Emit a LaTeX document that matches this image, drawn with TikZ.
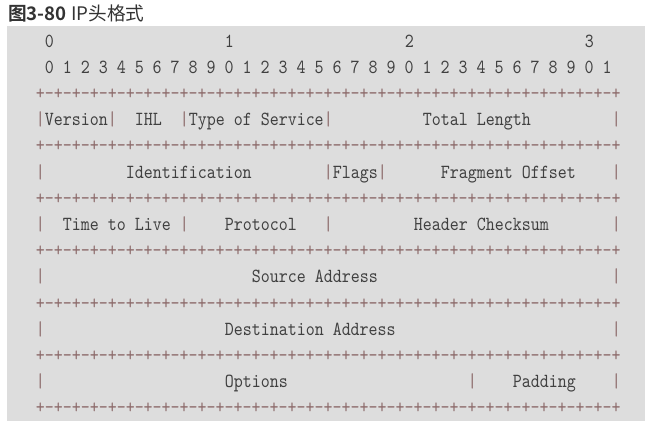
\documentclass[tikz,border=0pt]{standalone}
\usepackage{fontspec}
\usetikzlibrary{positioning}
\newfontfamily\gridfont{lmmono10-regular}[Extension=.otf,FakeStretch=0.857]
\newfontfamily\titlefont{Noto Sans CJK SC}[BoldFont={Noto Sans CJK SC Bold}]
\definecolor{bggray}{HTML}{DDDDDD}
\definecolor{textgray}{HTML}{404040}
\definecolor{gridred}{HTML}{8C6A6A}
\definecolor{titlegray}{HTML}{333333}
\newcommand{\sepfour}{+-+-+-+-}
\newcommand{\sepline}{\sepfour\sepfour\sepfour\sepfour\sepfour\sepfour\sepfour\sepfour+}
\tikzset{
  txt/.style={anchor=base west, inner sep=0pt, font=\gridfont\fontsize{15}{17}\selectfont, text=textgray},
  grid/.style={txt, text=gridred},
}

\begin{document}
\begin{tikzpicture}[x=0.75pt, y=-0.75pt]
    \useasboundingbox (0,0) rectangle (645,421);
    \fill [bggray] (7,26) rectangle (645,421);
    \node [anchor=west, inner sep=0pt, font=\titlefont\fontsize{14}{16}\selectfont, text=titlegray] (title) at (8,13.5) {\textbf{图3-80} IP头格式};

    \begin{scope}[shift={(35.5,47)}, x=6.75pt, y=-19.65pt]
    \node [txt] (tens0) at (1,0) {0};
    \node [txt] (tens1) at (21,0) {1};
    \node [txt] (tens2) at (41,0) {2};
    \node [txt] (tens3) at (61,0) {3};
    \node [txt] (bits) at (1,1) {0 1 2 3 4 5 6 7 8 9 0 1 2 3 4 5 6 7 8 9 0 1 2 3 4 5 6 7 8 9 0 1};

    \foreach \y in {2,4,...,14}
        \node [grid] (sep\y) at (0,\y) {\sepline};
    \foreach \x/\y in {0/3,8/3,16/3,32/3,64/3, 0/5,32/5,38/5,64/5, 0/7,16/7,32/7,64/7,
                       0/9,64/9, 0/11,64/11, 0/13,48/13,64/13}
        \node [grid] (bar-\x-\y) at (\x,\y) {|};

    \node [txt] (version) at (1,3) {Version};
    \node [txt] (ihl) at (11,3) {IHL};
    \node [txt] (tos) at (17,3) {Type of Service};
    \node [txt] (length) at (43,3) {Total Length};
    \node [txt] (ident) at (10,5) {Identification};
    \node [txt] (flags) at (33,5) {Flags};
    \node [txt] (offset) at (45,5) {Fragment Offset};
    \node [txt] (ttl) at (3,7) {Time to Live};
    \node [txt] (proto) at (21,7) {Protocol};
    \node [txt] (checksum) at (42,7) {Header Checksum};
    \node [txt] (src) at (24,9) {Source Address};
    \node [txt] (dst) at (21,11) {Destination Address};
    \node [txt] (options) at (21,13) {Options};
    \node [txt] (padding) at (53,13) {Padding};
    \end{scope}
\end{tikzpicture}
\end{document}
